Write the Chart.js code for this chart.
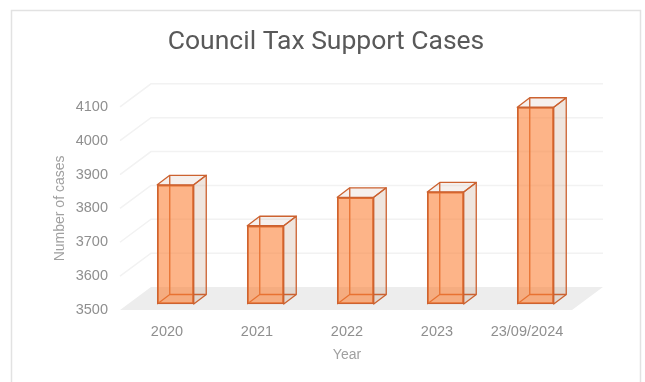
<!DOCTYPE html>
<html>
<head>
<meta charset="utf-8">
<title>Council Tax Support Cases</title>
<script src="https://cdn.jsdelivr.net/npm/chart.js@4"></script>
<style>
    html, body { margin: 0; padding: 0; background: #fff; overflow: hidden; }
    #wrap { width: 645px; height: 382px; }
</style>
</head>
<body>
<div id="wrap"><canvas id="casesChart" width="645" height="382"></canvas></div>
<script>
const categories = ["2020", "2021", "2022", "2023", "23/09/2024"];
const caseCounts = [3852, 3731, 3815, 3831, 4081];
const yMin = 3500;
const yMax = 4100;
const yStep = 100;

// 3d look: how far the back wall sits from the front of the floor
const wallDx = 31, wallDy = 23;
// bars stand part way into the floor
const barDx = 8.5, barLift = 6;
const depthDx = 12.5, depthDy = 9.5;

const edgeColor = '#cc6230';

// frame, floor and receding gridlines, drawn under the bars
const backdrop = {
    id: 'backdrop',
    beforeDraw(chart) {
        const ctx = chart.ctx, area = chart.chartArea, y = chart.scales.y;
        ctx.save();
        ctx.strokeStyle = '#e2e2e2';
        ctx.lineWidth = 1.5;
        ctx.strokeRect(11.5, 10.5, 629, 420);

        ctx.fillStyle = '#ededed';
        ctx.beginPath();
        ctx.moveTo(area.left - 2, area.bottom);
        ctx.lineTo(area.left - 2 + wallDx, area.bottom - wallDy);
        ctx.lineTo(area.right + wallDx, area.bottom - wallDy);
        ctx.lineTo(area.right, area.bottom);
        ctx.closePath();
        ctx.fill();

        ctx.strokeStyle = '#f2f2f2';
        ctx.lineWidth = 1.5;
        y.ticks.forEach(t => {
            if (t.value === yMin) return;
            const py = y.getPixelForValue(t.value);
            ctx.beginPath();
            ctx.moveTo(area.left - 2, py);
            ctx.lineTo(area.left - 2 + wallDx, py - wallDy);
            ctx.lineTo(area.right + wallDx, py - wallDy);
            ctx.stroke();
        });
        ctx.restore();
    }
};

// box sides behind each bar, then the native bar is the translucent front face
const barBoxes = {
    id: 'barBoxes',
    beforeDatasetDraw(chart, args) {
        const ctx = chart.ctx;
        ctx.save();
        ctx.translate(barDx, -barLift);
        args.meta.data.forEach(bar => {
            const l = bar.x - bar.width / 2, r = bar.x + bar.width / 2;
            const t = bar.y, b = bar.base;
            const dx = depthDx, dy = depthDy;

            ctx.lineWidth = 1.3;
            ctx.strokeStyle = edgeColor;
            ctx.lineJoin = 'round';

            // right side
            ctx.fillStyle = 'rgba(190,150,125,.25)';
            ctx.beginPath();
            ctx.moveTo(r, t);
            ctx.lineTo(r + dx, t - dy);
            ctx.lineTo(r + dx, b - dy);
            ctx.lineTo(r, b);
            ctx.closePath();
            ctx.fill();
            ctx.stroke();

            // top
            ctx.fillStyle = 'rgba(190,150,125,.14)';
            ctx.beginPath();
            ctx.moveTo(l, t);
            ctx.lineTo(l + dx, t - dy);
            ctx.lineTo(r + dx, t - dy);
            ctx.lineTo(r, t);
            ctx.closePath();
            ctx.fill();
            ctx.stroke();

            // inner back edges
            ctx.beginPath();
            ctx.moveTo(l + dx, t - dy);
            ctx.lineTo(l + dx, b - dy);
            ctx.lineTo(r + dx, b - dy);
            ctx.moveTo(l + dx, b - dy);
            ctx.lineTo(l, b);
            ctx.stroke();
        });
    },
    afterDatasetDraw(chart) {
        chart.ctx.restore();
    }
};

var ctxB = document.getElementById("casesChart").getContext('2d');
var casesChart = new Chart(ctxB, {
    type: 'bar',
    data: {
        labels: categories,
        datasets: [{
            label: "Number of cases",
            data: caseCounts,
            base: yMin,
            backgroundColor: 'rgba(251,125,50,.58)',
            borderColor: edgeColor,
            borderWidth: 1.3,
            borderSkipped: false,
            barThickness: 36.5,
            clip: false
        }]
    },
    options: {
        responsive: false,
        animation: false,
        layout: { padding: { left: 7 }, autoPadding: false },
        plugins: {
            legend: { display: false },
            tooltip: { enabled: false },
            title: {
                display: true,
                text: "Council Tax Support Cases",
                color: '#595959',
                font: { family: 'Roboto', size: 26.5, weight: 'normal' },
                padding: { top: 26, bottom: 49 }
            }
        },
        scales: {
            x: {
                grid: { display: false, drawTicks: false },
                border: { display: false },
                ticks: { color: '#8f8f8f', font: { family: 'Liberation Sans', size: 14.5 }, padding: 13, maxRotation: 0 },
                title: {
                    display: true, text: "Year", color: '#a0a0a0',
                    font: { family: 'Liberation Sans', size: 14 },
                    padding: { top: 0, bottom: 18 }
                },
                afterFit(scale) { scale.height = 72; }
            },
            y: {
                min: yMin,
                max: yMax,
                grid: { display: false, drawTicks: false },
                border: { display: false },
                ticks: {
                    stepSize: yStep,
                    color: '#8f8f8f',
                    font: { family: 'Liberation Sans', size: 14.5 },
                    padding: 14,
                    callback: value => String(value)
                },
                title: {
                    display: true, text: "Number of cases", color: '#a0a0a0',
                    font: { family: 'Liberation Sans', size: 14 },
                    padding: { top: 45, bottom: 0 }
                },
                afterFit(scale) { scale.width = 115; }
            },
            // empty right axis keeps the plot clear of the back wall overhang
            yRight: {
                axis: 'y',
                position: 'right',
                grid: { display: false, drawTicks: false },
                border: { display: false },
                ticks: { display: false },
                afterFit(scale) { scale.width = 73; }
            }
        }
    },
    plugins: [backdrop, barBoxes]
});
</script>
</body>
</html>
